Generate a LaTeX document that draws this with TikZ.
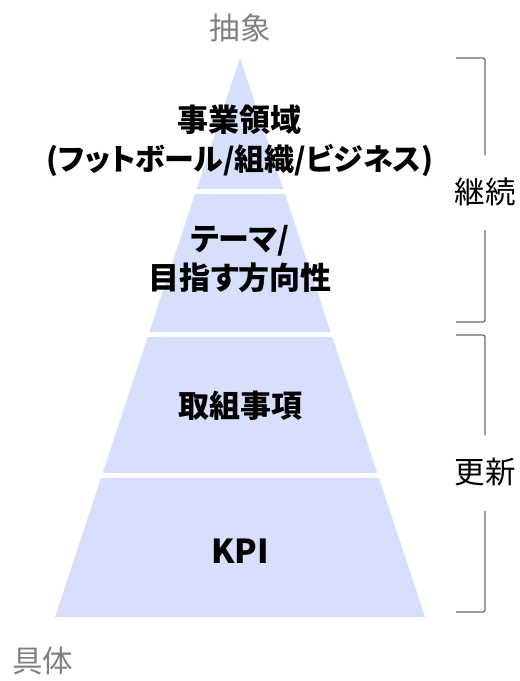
\documentclass[tikz,border=0pt]{standalone}
\usepackage{fontspec}
\setmainfont{Noto Sans CJK JP}[RawFeature=+palt]
\definecolor{pyrblue}{RGB}{214,224,252}
\definecolor{sidegray}{RGB}{128,128,128}
\definecolor{bracegray}{RGB}{105,105,105}
\tikzset{
  band/.style={fill=pyrblue, draw=none},
  level/.style={font=\bfseries\fontsize{31}{39}\selectfont, align=center, text=black},
  side/.style={font=\fontsize{30.5}{34}\selectfont, text=sidegray},
  brace/.style={draw=bracegray, line width=1.2pt, rounded corners=2pt},
}
% one band of the pyramid, from y=#1 down to y=#2
\newcommand{\band}[2]{
            \fill[band] ({240-(#1-58)*0.331},#1) -- ({240+(#1-58)*0.331},#1)
              -- ({240+(#2-58)*0.331},#2) -- ({240-(#2-58)*0.331},#2) -- cycle;
        }

\begin{document}
\begin{tikzpicture}[x=1pt, y=-1pt]
        \useasboundingbox (0,0) rectangle (520,681);
        \band{58}{189}
        \band{194}{332}
        \band{337}{473}
        \band{478}{617}

        \node[level] (domain) at (240,141) {事業領域\\{\fontsize{30}{39}\selectfont(フットボール/組織/ビジネス)}};
        \node[level] (theme) at (240,259) {テーマ/\\目指す方向性};
        \node[level] (action) at (240,406) {取組事項};
        \node[level, font=\bfseries\fontsize{33}{39}\selectfont] (kpi) at (240,551) {KPI};

        \node[side] (abstract) at (240,28) {抽象};
        \node[side] (concrete) at (43,661) {具体};

        \node[side, text=black] (keep) at (485,192) {継続};
        \draw[brace] (456,58) -- (485,58) -- (485,155);
        \draw[brace] (485,230) -- (485,322) -- (456,322);

        \node[side, text=black] (renew) at (485,472) {更新};
        \draw[brace] (456,335) -- (485,335) -- (485,435);
        \draw[brace] (485,511) -- (485,612) -- (456,612);
\end{tikzpicture}
\end{document}
